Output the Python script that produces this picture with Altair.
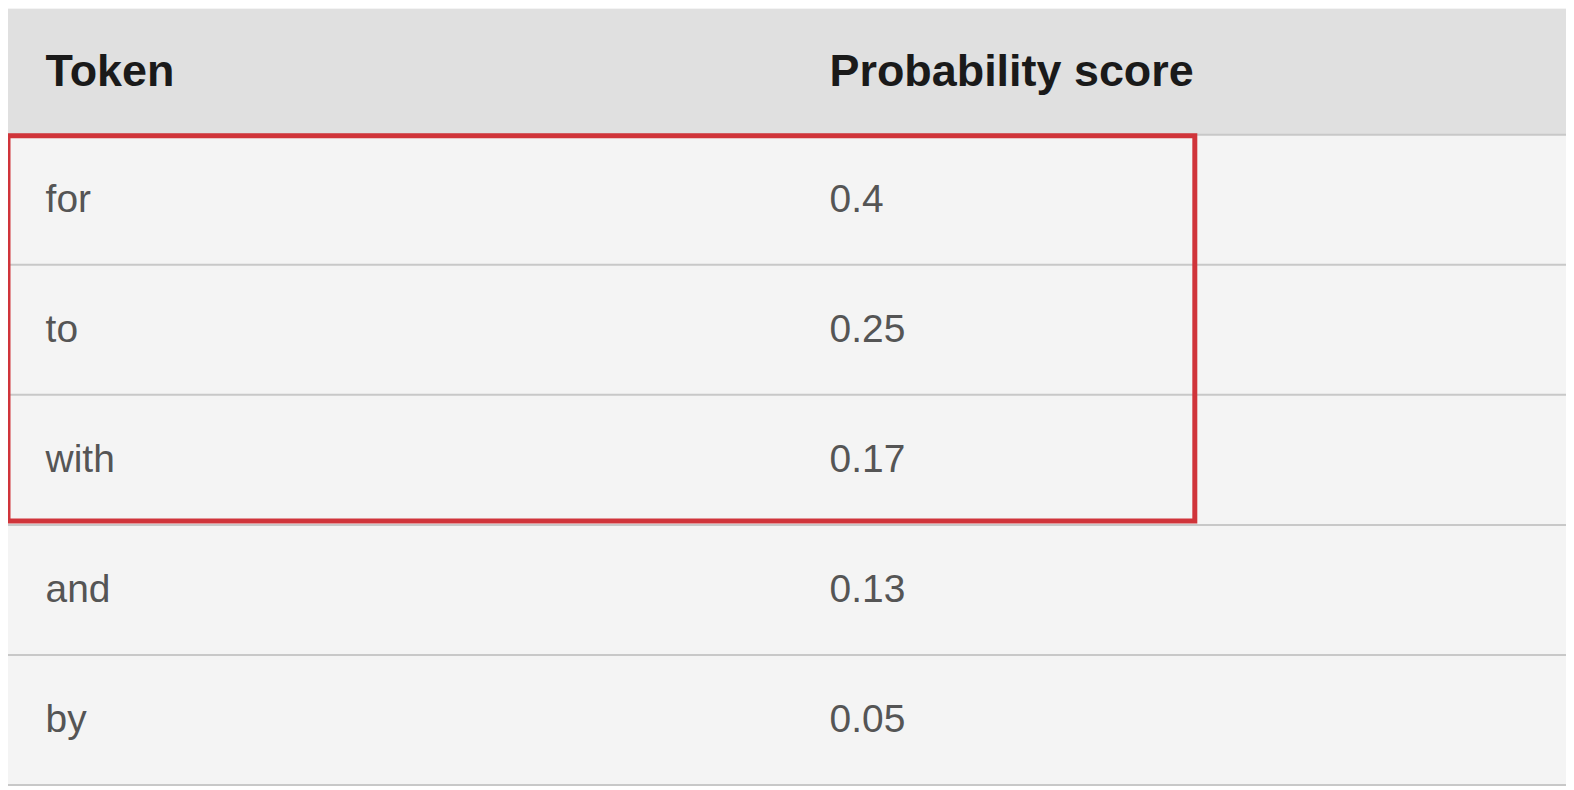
import altair as alt
import pandas as pd

tokens = ["for", "to", "with", "and", "by"]
scores = ["0.4", "0.25", "0.17", "0.13", "0.05"]
headers = ["Token", "Probability score"]
highlighted = 3  # top rows inside the red box

W, H = 1562, 778
HEADER_H = 128
ROW_H = 132.4
COL_X = [38, 830]

rows = pd.DataFrame({
    "token": tokens,
    "score": scores,
    "top": [HEADER_H + i * ROW_H for i in range(len(tokens))],
})
rows["bottom"] = rows["top"] + ROW_H
rows["mid"] = rows["top"] + ROW_H / 2
rows["x0"] = 0
rows["x1"] = 1574
rows["tx"] = COL_X[0]
rows["sx"] = COL_X[1]

head = pd.DataFrame({"label": headers, "x": COL_X, "y": [HEADER_H / 2] * 2})
band = pd.DataFrame({"x0": [0], "x1": [1574], "top": [0], "bottom": [HEADER_H]})
box = pd.DataFrame({"x0": [0], "x1": [1199], "top": [HEADER_H + 1],
                    "bottom": [HEADER_H + highlighted * ROW_H - 4]})

xs = alt.Scale(domain=[0, 1574], range=[0, W])
ys = alt.Scale(domain=[0, 790], range=[0, H])
X = lambda f: alt.X(f, type="quantitative", scale=xs, axis=None)
Y = lambda f: alt.Y(f, type="quantitative", scale=ys, axis=None)

header_bg = alt.Chart(band).mark_rect(color="#e0e0e0").encode(
    x=X("x0"), x2="x1", y=Y("top"), y2="bottom")
row_bg = alt.Chart(rows).mark_rect(color="#f4f4f4").encode(
    x=X("x0"), x2="x1", y=Y("top"), y2="bottom")
lines = alt.Chart(pd.concat([band[["x0", "x1", "bottom"]], rows[["x0", "x1", "bottom"]]])).mark_rule(
    color="#c8c8c8", strokeWidth=2).encode(x=X("x0"), x2="x1", y=Y("bottom"))
head_text = alt.Chart(head).mark_text(
    align="left", baseline="middle", font="Liberation Sans", fontSize=45,
    fontWeight="bold", color="#1a1a1a").encode(x=X("x"), y=Y("y"), text="label:N")
body = dict(align="left", baseline="middle", font="Liberation Sans", fontSize=39, color="#555555")
tok_text = alt.Chart(rows).mark_text(**body).encode(x=X("tx"), y=Y("mid"), text="token:N")
score_text = alt.Chart(rows).mark_text(**body).encode(x=X("sx"), y=Y("mid"), text="score:N")
red_box = alt.Chart(box).mark_rect(
    fillOpacity=0, stroke="#d0343a", strokeWidth=5).encode(
    x=X("x0"), x2="x1", y=Y("top"), y2="bottom")

chart = alt.layer(header_bg, row_bg, lines, head_text, tok_text, score_text, red_box).properties(
    width=W, height=H, padding=0, autosize=alt.AutoSizeParams(type="none"),
    background="#f4f4f4"
).configure_view(stroke=None)

chart.save("out.html", embed_options={"renderer": "svg", "actions": False})
